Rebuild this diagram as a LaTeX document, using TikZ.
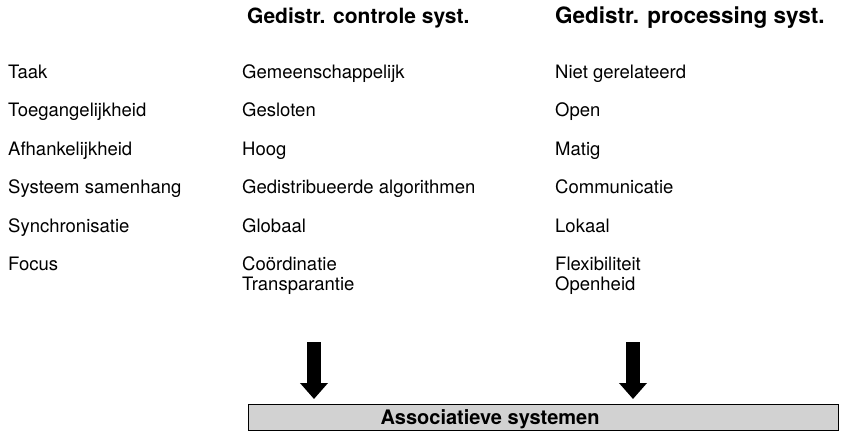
\documentclass[tikz,border=0pt]{standalone}
\usepackage{fontspec}
\setmainfont{TeX Gyre Heros}
\usetikzlibrary{arrows.meta}
\begin{document}
\begin{tikzpicture}[x=1pt,y=-1pt,
  lbl/.style={anchor=base west,inner sep=0pt,font=\fontsize{18.5}{20}\selectfont},
  hdr/.style={anchor=base west,inner sep=0pt,font=\fontsize{21.5}{24}\selectfont\bfseries},
  fat/.style={line width=14pt,-{Triangle[width=27pt,length=16pt]}},
  assoc/.style={draw=black,line width=0.8pt,fill=gray!35,minimum width=590pt,minimum height=26pt,inner sep=0pt}]
\useasboundingbox (0,0) rectangle (843,436);
\node[hdr,font=\fontsize{21}{24}\selectfont\bfseries] (h1) at (247,24) {Gedistr. controle syst.};
\node[hdr,font=\fontsize{22.5}{24}\selectfont\bfseries] (h2) at (555,24) {Gedistr. processing syst.};
\node[lbl] (r1) at (8,78) {Taak};
\node[lbl] (r2) at (8,116.5) {Toegangelijkheid};
\node[lbl] (r3) at (8,155) {Afhankelijkheid};
\node[lbl] (r4) at (8,193.5) {Systeem samenhang};
\node[lbl] (r5) at (8,232) {Synchronisatie};
\node[lbl] (r6) at (8,270.5) {Focus};
\node[lbl] (a1) at (242,78) {Gemeenschappelijk};
\node[lbl] (a2) at (242,116.5) {Gesloten};
\node[lbl] (a3) at (242,155) {Hoog};
\node[lbl] (a4) at (242,193.5) {Gedistribueerde algorithmen};
\node[lbl] (a5) at (242,232) {Globaal};
\node[lbl] (a6) at (242,270.5) {Coördinatie};
\node[lbl] (a7) at (242,290) {Transparantie};
\node[lbl] (b1) at (555,78) {Niet gerelateerd};
\node[lbl] (b2) at (555,116.5) {Open};
\node[lbl] (b3) at (555,155) {Matig};
\node[lbl] (b4) at (555,193.5) {Communicatie};
\node[lbl] (b5) at (555,232) {Lokaal};
\node[lbl] (b6) at (555,270.5) {Flexibiliteit};
\node[lbl] (b7) at (555,290) {Openheid};
\node[assoc] (box) at (543,417) {};
\node[anchor=base,inner sep=0pt,font=\fontsize{20}{24}\selectfont\bfseries] (boxt) at (490,424) {Associatieve systemen};
\coordinate (s1) at (314,342);
\coordinate (e1) at (314,399);
\coordinate (s2) at (633,342);
\coordinate (e2) at (633,399);
\draw[fat] (s1) -- (e1);
\draw[fat] (s2) -- (e2);
\end{tikzpicture}
\end{document}
